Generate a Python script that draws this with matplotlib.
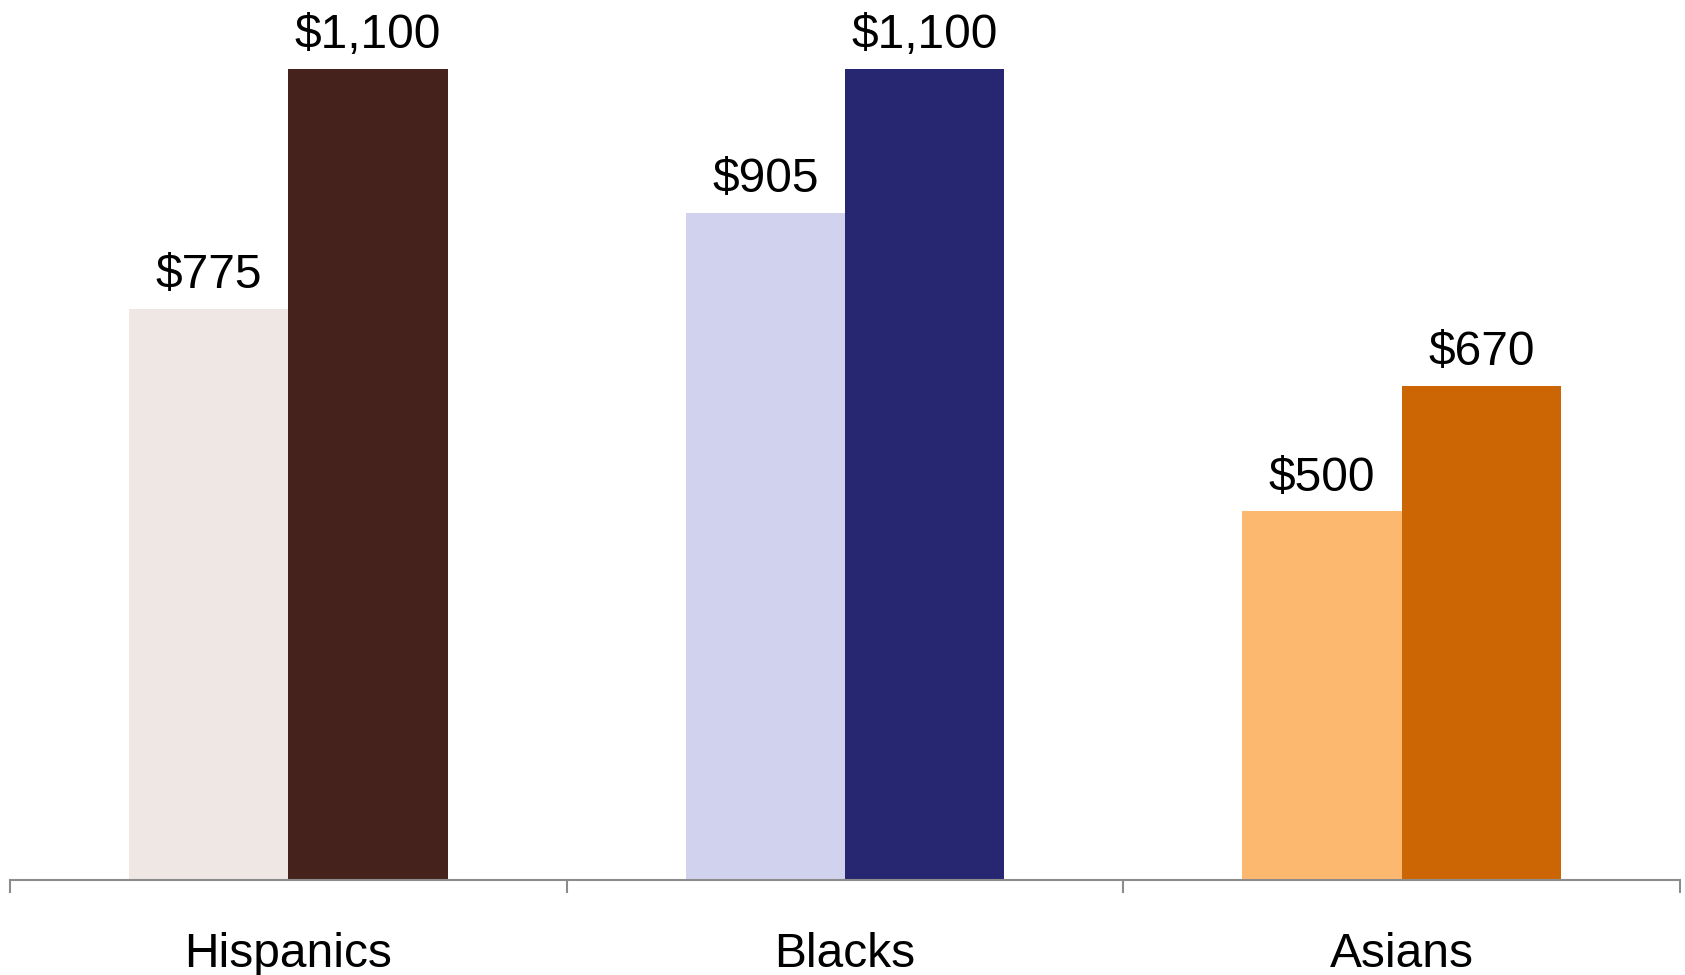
import numpy as np
import matplotlib.pyplot as plt

plt.rcParams['font.family'] = ['Liberation Sans', 'DejaVu Sans']

categories = ["Hispanics", "Blacks", "Asians"]
first_values = [775, 905, 500]
second_values = [1100, 1100, 670]
light_colors = ["#EFE7E4", "#D0D2EE", "#FDB870"]
dark_colors = ["#45231C", "#272671", "#CC6604"]

fig = plt.figure(figsize=(16.85, 9.75), dpi=100)
ax = fig.add_axes([10 / 1685, 95 / 975, 1670 / 1685, 880 / 975])

x = np.arange(len(categories))
w = 0.286

b1 = ax.bar(x - w / 2, first_values, width=w, color=light_colors)
b2 = ax.bar(x + w / 2, second_values, width=w, color=dark_colors)

# value labels above each bar
for bars, vals in [(b1, first_values), (b2, second_values)]:
    for bar, v in zip(bars, vals):
        ax.annotate(f"${v:,}", (bar.get_x() + bar.get_width() / 2, v),
                    xytext=(0, 15), textcoords="offset points",
                    ha="center", va="baseline", fontsize=34.5)

ax.set_xlim(-0.5, len(categories) - 0.5)
ax.set_ylim(0, 1100 * 880 / 811)

# boundary ticks between groups, names centered
ax.set_xticks(np.arange(-0.5, len(categories)))
ax.set_xticklabels([])
ax.set_xticks(x, minor=True)
ax.set_xticklabels(categories, minor=True, fontsize=34.5)
ax.tick_params(axis="x", which="major", length=9.5, width=1.5, color="#8C8C8C")
ax.tick_params(axis="x", which="minor", length=0, pad=37.5)
ax.set_yticks([])

for s in ["top", "right", "left"]:
    ax.spines[s].set_visible(False)
ax.spines["bottom"].set_color("#8C8C8C")
ax.spines["bottom"].set_linewidth(1.5)

plt.savefig("out.png", dpi=100)
